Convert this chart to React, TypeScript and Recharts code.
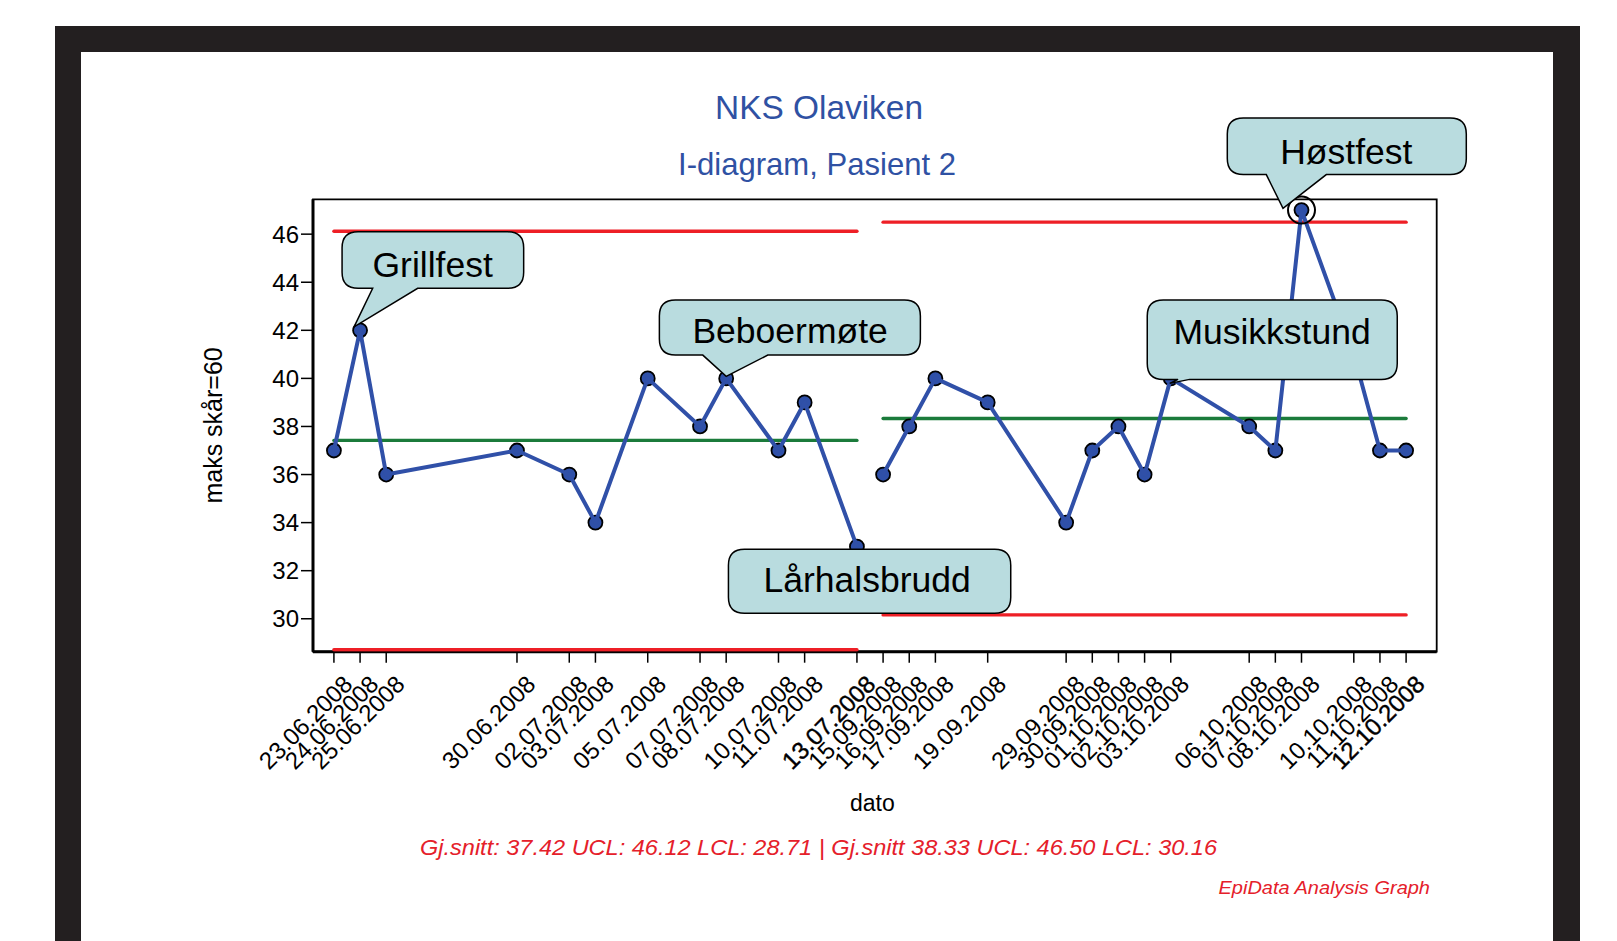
import React from "react";
import { LineChart, Line, XAxis, YAxis, ReferenceArea, ReferenceDot } from "recharts";

// ── data ──
const dates = [
  "23.06.2008", "24.06.2008", "25.06.2008", "30.06.2008", "02.07.2008", "03.07.2008",
  "05.07.2008", "07.07.2008", "08.07.2008", "10.07.2008", "11.07.2008", "13.07.2008",
  "15.09.2008", "16.09.2008", "17.09.2008", "19.09.2008", "29.09.2008", "30.09.2008",
  "01.10.2008", "02.10.2008", "03.10.2008", "06.10.2008", "07.10.2008", "08.10.2008",
  "10.10.2008", "11.10.2008", "12.10.2008",
];
// position of each date on the x axis (the axis is compressed between the two phases)
const positions = [0, 1, 2, 7, 9, 10, 12, 14, 15, 17, 18, 20, 21, 22, 23, 25, 28, 29, 30, 31, 32, 35, 36, 37, 39, 40, 41];
const scores = [37, 42, 36, 37, 36, 34, 40, 38, 40, 37, 39, 33, 36, 38, 40, 39, 34, 37, 38, 36, 40, 38, 37, 47, 41, 37, 37];

const phaseStart = [0, 12];
const phaseMean = [37.42, 38.33];
const phaseUcl = [46.12, 46.5];
const phaseLcl = [28.71, 30.16];

const yTicks = [30, 32, 34, 36, 38, 40, 42, 44, 46];

const eventNames = ["Grillfest", "Beboermøte", "Lårhalsbrudd", "Musikkstund", "Høstfest"];
const eventDates = ["24.06.2008", "08.07.2008", "13.07.2008", "03.10.2008", "08.10.2008"];

// ── layout ──
const W = 1617;
const H = 941;
const xDomain: [number, number] = [-0.8, 42.17];
const yDomain: [number, number] = [28.63, 47.45];
const FONT = "'Liberation Sans', Arial, Helvetica, sans-serif";
const BLUE = "#3050a8";
const RED = "#ee1f26";
const GREEN = "#1b7b3b";
const BUBBLE = "#b9dcdf";
const heavyDates = ["13.07.2008", "12.10.2008"];

const rows = positions.map((p, i) => {
  const ph = i >= phaseStart[1] ? 1 : 0;
  const row: Record<string, number | string> = { p, date: dates[i] };
  row[`score${ph}`] = scores[i];
  row[`mean${ph}`] = phaseMean[ph];
  row[`ucl${ph}`] = phaseUcl[ph];
  row[`lcl${ph}`] = phaseLcl[ph];
  return row;
});

// callout geometry, pixel offsets from the marked point
type CalloutGeom = {
  box: [number, number, number, number];
  base?: [number, number];
  tip?: [number, number];
  text: [number, number];
  ring?: boolean;
};
const calloutLayout: Record<string, CalloutGeom> = {
  Grillfest: { box: [-18, -98.5, 163.6, -42], base: [12.6, 57.6], tip: [-6, -3.5], text: [72.6, -53.5] },
  Beboermøte: { box: [-66.8, -78.3, 194.2, -23.3], base: [-23.4, 41.6], tip: [0, -2], text: [63.9, -35] },
  Lårhalsbrudd: { box: [-128.5, 2.5, 153.8, 66.5], text: [10.2, 45.5] },
  Musikkstund: { box: [-23.5, -78.3, 226.5, 1], base: [7.3, 18.8], tip: [-1, 5], text: [101.3, -34.3] },
  Høstfest: { box: [-74.2, -92, 164.8, -35.5], base: [-35.2, 24.8], tip: [-18.5, -1.7], text: [44.8, -46.3], ring: true },
};

function bubblePath(cx: number, cy: number, g: CalloutGeom) {
  const l = cx + g.box[0];
  const t = cy + g.box[1];
  const r = cx + g.box[2];
  const b = cy + g.box[3];
  const R = 16;
  let d = `M${l + R},${t} H${r - R} Q${r},${t} ${r},${t + R} V${b - R} Q${r},${b} ${r - R},${b} `;
  if (g.base && g.tip) {
    d += `H${cx + g.base[1]} L${cx + g.tip[0]},${cy + g.tip[1]} L${cx + g.base[0]},${b} `;
  }
  d += `H${l + R} Q${l},${b} ${l},${b - R} V${t + R} Q${l},${t} ${l + R},${t} Z`;
  return d;
}

function Callout({ cx, cy, name }: { cx?: number; cy?: number; name: string }) {
  if (cx == null || cy == null) return <g />;
  const g = calloutLayout[name];
  return (
    <g>
      {g.ring && <circle cx={cx} cy={cy} r={13.5} fill="none" stroke="#000" strokeWidth={2} />}
      <path d={bubblePath(cx, cy, g)} fill={BUBBLE} stroke="#000" strokeWidth={1.5} />
      <text
        x={cx + g.text[0]}
        y={cy + g.text[1]}
        textAnchor="middle"
        fontSize={35.5}
        fontFamily={FONT}
        fill="#000"
      >
        {name}
      </text>
    </g>
  );
}

function DateTick(props: any) {
  const { x, y, payload } = props;
  const label = dates[positions.indexOf(payload.value)];
  const ax = x + 20;
  const ay = y + 21;
  const heavy = heavyDates.includes(label);
  return (
    <text
      x={ax}
      y={ay}
      textAnchor="end"
      transform={`rotate(-45 ${ax} ${ay})`}
      fontSize={24}
      fontFamily={FONT}
      fill="#000"
      stroke={heavy ? "#000" : "none"}
      strokeWidth={heavy ? 0.4 : 0}
    >
      {label}
    </text>
  );
}

function scoreDot(key: string) {
  return (props: any) => {
    const { cx, cy, payload, index } = props;
    if (cx == null || cy == null || payload?.[key] == null) return <g key={`d-${key}-${index}`} />;
    return (
      <circle
        key={`d-${key}-${index}`}
        cx={cx}
        cy={cy}
        r={7}
        fill="#2f50a8"
        stroke="#000"
        strokeWidth={1.8}
      />
    );
  };
}

export default function App() {
  return (
    <div
      style={{
        position: "absolute",
        left: 0,
        top: 0,
        width: W,
        height: H,
        overflow: "hidden",
        background: "#fff",
        fontFamily: FONT,
      }}
    >
      {/* black page frame */}
      <div
        style={{
          position: "absolute",
          left: 55,
          top: 26,
          width: 1525,
          height: H - 26,
          boxSizing: "border-box",
          borderTop: "26px solid #231f20",
          borderLeft: "26px solid #231f20",
          borderRight: "27px solid #231f20",
          background: "#fff",
        }}
      />

      {/* titles and footer */}
      <svg width={W} height={H} style={{ position: "absolute", left: 0, top: 0 }}>
        <text x={819} y={119.3} textAnchor="middle" fontSize={34} fill="#2f51a3" fontFamily={FONT}
          textLength={208} lengthAdjust="spacingAndGlyphs">
          NKS Olaviken
        </text>
        <text x={817} y={175} textAnchor="middle" fontSize={32} fill="#2f51a3" fontFamily={FONT}
          textLength={278} lengthAdjust="spacingAndGlyphs">
          I-diagram, Pasient 2
        </text>
        <text x={222} y={425.4} textAnchor="middle" fontSize={25} fill="#000" fontFamily={FONT}
          transform="rotate(-90 222 425.4)">
          maks skår=60
        </text>
        <text x={872.4} y={811} textAnchor="middle" fontSize={23} fill="#000" fontFamily={FONT}>
          dato
        </text>
        <text x={420} y={855} fontSize={22} fontStyle="italic" fill="#e5202a" fontFamily={FONT}
          textLength={797} lengthAdjust="spacingAndGlyphs">
          Gj.snitt: 37.42 UCL: 46.12 LCL: 28.71 | Gj.snitt 38.33 UCL: 46.50 LCL: 30.16
        </text>
        <text x={1218.5} y={894} fontSize={18} fontStyle="italic" fill="#e5202a" fontFamily={FONT}
          textLength={211.5} lengthAdjust="spacingAndGlyphs">
          EpiData Analysis Graph
        </text>
      </svg>

      <div style={{ position: "absolute", left: 0, top: 0 }}>
        <LineChart
          width={W}
          height={H}
          data={rows}
          margin={{ top: 199.3, right: 180.3, left: 0, bottom: H - 651.7 - 100 }}
        >
          <XAxis
            type="number"
            dataKey="p"
            domain={xDomain}
            allowDataOverflow
            ticks={positions}
            interval={0}
            height={100}
            tickSize={11}
            axisLine={{ stroke: "#000", strokeWidth: 3 }}
            tickLine={{ stroke: "#000", strokeWidth: 1.5 }}
            tick={<DateTick />}
          />
          <YAxis
            type="number"
            domain={yDomain}
            allowDataOverflow
            ticks={yTicks}
            interval={0}
            width={313}
            tickSize={12}
            tickMargin={2}
            axisLine={{ stroke: "#000", strokeWidth: 3 }}
            tickLine={{ stroke: "#000", strokeWidth: 1.5 }}
            tick={{ fill: "#000", fontSize: 24, fontFamily: FONT }}
          />
          <ReferenceArea
            x1={xDomain[0]}
            x2={xDomain[1]}
            y1={yDomain[0]}
            y2={yDomain[1]}
            fill="none"
            stroke="#000"
            strokeWidth={1.8}
            ifOverflow="visible"
          />
          {[0, 1].map((ph) => (
            <Line key={`ucl${ph}`} dataKey={`ucl${ph}`} stroke={RED} strokeWidth={3.4} strokeLinecap="round"
              dot={false} activeDot={false} isAnimationActive={false} zIndex={550} />
          ))}
          {[0, 1].map((ph) => (
            <Line key={`lcl${ph}`} dataKey={`lcl${ph}`} stroke={RED} strokeWidth={3.4} strokeLinecap="round"
              dot={false} activeDot={false} isAnimationActive={false} zIndex={550} />
          ))}
          {[0, 1].map((ph) => (
            <Line key={`mean${ph}`} dataKey={`mean${ph}`} stroke={GREEN} strokeWidth={3.4} strokeLinecap="round"
              dot={false} activeDot={false} isAnimationActive={false} zIndex={550} />
          ))}
          {[0, 1].map((ph) => (
            <Line
              key={`score${ph}`}
              dataKey={`score${ph}`}
              stroke={BLUE}
              strokeWidth={4}
              strokeLinejoin="round"
              dot={scoreDot(`score${ph}`)}
              activeDot={false}
              isAnimationActive={false}
              zIndex={600}
            />
          ))}
          {eventNames.map((name, k) => {
            const i = dates.indexOf(eventDates[k]);
            return (
              <ReferenceDot
                key={name}
                x={positions[i]}
                y={scores[i]}
                r={0}
                ifOverflow="visible"
                zIndex={700}
                shape={(p: any) => <Callout cx={p.cx} cy={p.cy} name={name} />}
              />
            );
          })}
        </LineChart>
      </div>
    </div>
  );
}
